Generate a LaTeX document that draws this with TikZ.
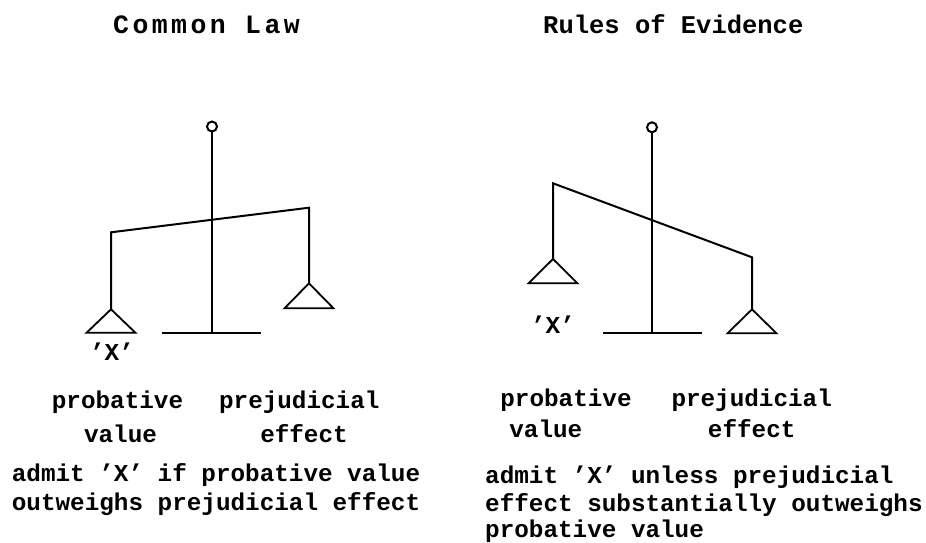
\documentclass[tikz,border=0pt]{standalone}
\usepackage{fontspec}
\setmonofont{Liberation Mono}
\begin{document}
\begin{tikzpicture}[x=1pt,y=-1pt,
  bar/.style={line width=2pt,line cap=butt},
  pan/.style={line width=1.8pt,line join=miter},
  ring/.style={line width=2pt},
  txt/.style={font=\ttfamily\bfseries\fontsize{24.3}{28}\selectfont,inner sep=0pt,anchor=base},
  ttl/.style={inner sep=0pt,anchor=base west},
  para/.style={font=\ttfamily\bfseries\fontsize{24.3}{28}\selectfont,inner sep=0pt,anchor=base west}]
\useasboundingbox (0,0) rectangle (926,542);
\fill[white] (0,0) rectangle (926,542);

% titles
\node[ttl,font=\ttfamily\bfseries\fontsize{26.5}{30}\selectfont\addfontfeature{LetterSpace=13}] (t1) at (113,33) {Common Law};
\node[ttl,font=\ttfamily\bfseries\fontsize{25.5}{30}\selectfont] (t2) at (543,33) {Rules of Evidence};

% ---- left balance (Common Law)
\coordinate (Lc) at (212,126.5);
\coordinate (Ltop) at (212,131.5);
\coordinate (Lfoot) at (212,333);
\coordinate (Lb1) at (161.7,333);
\coordinate (Lb2) at (261,333);
\coordinate (Lbl) at (111,232.3);
\coordinate (Lbr) at (309,207.7);
\coordinate (Lpl) at (111,309.3);
\coordinate (Lpr) at (309,283.3);
\draw[ring] (Lc) circle (5);
\draw[bar] (Ltop) -- (Lfoot);
\draw[bar] (Lb1) -- (Lb2);
\draw[bar] (Lpl) -- (Lbl) -- (Lbr) -- (Lpr);
\draw[pan] (Lpl) -- ++(24.5,23.5) -- ++(-49,0) -- cycle;
\draw[pan] (Lpr) -- ++(24.5,25) -- ++(-49,0) -- cycle;
\node[txt,anchor=center] (Lx) at (112,352) {’X’};

% ---- right balance (Rules of Evidence)
\coordinate (Rc) at (652,127.3);
\coordinate (Rtop) at (652,132.3);
\coordinate (Rfoot) at (652,333);
\coordinate (Rb1) at (603.3,333);
\coordinate (Rb2) at (702.3,333);
\coordinate (Rbl) at (553,183.3);
\coordinate (Rbr) at (752,257.3);
\coordinate (Rpl) at (553,259);
\coordinate (Rpr) at (752,309.3);
\draw[ring] (Rc) circle (5);
\draw[bar] (Rtop) -- (Rfoot);
\draw[bar] (Rb1) -- (Rb2);
\draw[bar] (Rpl) -- (Rbl) -- (Rbr) -- (Rpr);
\draw[pan] (Rpl) -- ++(24.5,24.3) -- ++(-49,0) -- cycle;
\draw[pan] (Rpr) -- ++(24.5,24) -- ++(-49,0) -- cycle;
\node[txt,anchor=center] (Rx) at (553,325) {’X’};

% ---- left captions
\node[txt] (L1a) at (117.5,408) {probative};
\node[txt] (L1b) at (299.3,408) {prejudicial};
\node[txt] (L2a) at (120.5,442) {value};
\node[txt] (L2b) at (304,442) {effect};
\node[para] (L3) at (11.7,481) {admit ’X’ if probative value};
\node[para] (L4) at (11.7,510) {outweighs prejudicial effect};

% ---- right captions
\node[txt] (R1a) at (566,406) {probative};
\node[txt] (R1b) at (751.7,406) {prejudicial};
\node[txt] (R2a) at (545.8,437) {value};
\node[txt] (R2b) at (751.7,437) {effect};
\node[para] (R3) at (485,483) {admit ’X’ unless prejudicial};
\node[para] (R4) at (485,511) {effect substantially outweighs};
\node[para] (R5) at (485,537) {probative value};
\end{tikzpicture}
\end{document}
